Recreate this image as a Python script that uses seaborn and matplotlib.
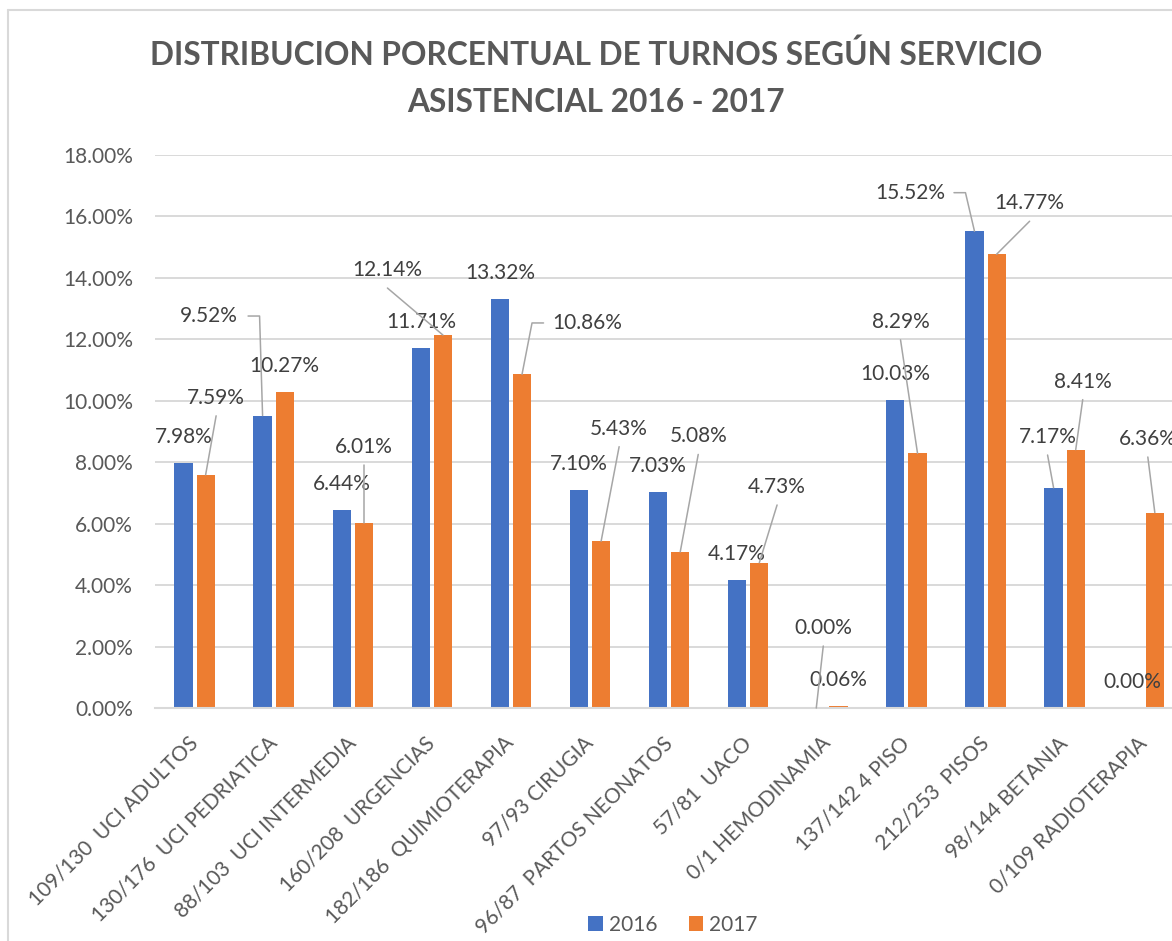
import matplotlib
matplotlib.use("Agg")
import numpy as np
import pandas as pd
import seaborn as sns
import matplotlib.pyplot as plt
from matplotlib.lines import Line2D
from matplotlib.patches import Patch
from matplotlib.transforms import IdentityTransform

# ---------------- data ----------------
categories = [
    "109/130  UCI ADULTOS",
    "130/176  UCI PEDRIATICA",
    "88/103  UCI INTERMEDIA",
    "160/208  URGENCIAS",
    "182/186  QUIMIOTERAPIA",
    "97/93 CIRUGIA",
    "96/87  PARTOS NEONATOS",
    "57/81  UACO",
    "0/1 HEMODINAMIA",
    "137/142 4 PISO",
    "212/253  PISOS",
    "98/144 BETANIA",
    "0/109 RADIOTERAPIA",
]
pct_2016 = [7.98, 9.52, 6.44, 11.71, 13.32, 7.10, 7.03, 4.17, 0.00, 10.03, 15.52, 7.17, 0.00]
pct_2017 = [7.59, 10.27, 6.01, 12.14, 10.86, 5.43, 5.08, 4.73, 0.06, 8.29, 14.77, 8.41, 6.36]
years = ["2016", "2017"]
y_ticks = [0, 2, 4, 6, 8, 10, 12, 14, 16, 18]
title_lines = ["DISTRIBUCION PORCENTUAL DE TURNOS SEGÚN SERVICIO",
               "ASISTENCIAL 2016 - 2017"]

# ---------------- layout / style ----------------
colors = ["#4472C4", "#ED7D31"]
W, H = 1172, 941
DEFAULT_OFF = (0, 26)  # px above bar top
# label offsets (px, x right / y up) relative to bar top; None = default
offsets = [
    [None, (-53.5, 99.5), None, None, None, None, None, None, (7, 80), None, (-64.5, 38.5), (-6, 50.7), None],
    [(10.5, 77), None, (0, 76.5), (-55.5, 65), (65.5, 51.4), (18, 112.5), (18, 115.5), (17.75, 75.7), None,
     (-17, 131.5), (33, 51), (7, 68), (-7, 73.6)],
]
# leader lines with elbow: side of label the line leaves from
elbows = {(0, 1): "right", (0, 10): "right", (1, 4): "left"}

sns.set_theme(style="white")
plt.rcParams["font.family"] = ["Lato", "DejaVu Sans"]

df = pd.DataFrame({
    "servicio": categories * 2,
    "pct": pct_2016 + pct_2017,
    "year": [years[0]] * len(categories) + [years[1]] * len(categories),
})

fig = plt.figure(figsize=(W / 100, H / 100), dpi=100)
ax = fig.add_axes([155 / W, (H - 708) / H, 13 * 79.1 / W, 553 / H])

sns.barplot(data=df, x="servicio", y="pct", hue="year", order=categories,
            hue_order=years, palette=colors, width=0.56, gap=0.18,
            linewidth=0, saturation=1, legend=False, ax=ax)

ax.set_xlim(-0.5, len(categories) - 0.5)
ax.set_ylim(0, 18)
ax.set_yticks(y_ticks)
ax.set_yticklabels([f"{v:.2f}%" for v in y_ticks], fontsize=15, color="#595959")
ax.set_xlabel("")
ax.set_ylabel("")
ax.grid(axis="y", color="#D9D9D9", linewidth=1.4)
ax.set_axisbelow(True)
for s in ["top", "right", "left"]:
    ax.spines[s].set_visible(False)
ax.spines["bottom"].set_color("#D9D9D9")
ax.spines["bottom"].set_linewidth(1.5)
ax.tick_params(axis="y", length=0, pad=16)
ax.tick_params(axis="x", which="major", length=0, pad=23)
ax.set_xticks(np.arange(len(categories)))
ax.set_xticklabels(categories, rotation=45, ha="right", va="center",
                   rotation_mode="anchor", fontsize=15, color="#595959")
ax.set_xticks(np.arange(-0.5, len(categories), 1), minor=True)
ax.tick_params(axis="x", which="minor", length=6, width=1.3, color="#D9D9D9", direction="out")

# ---------------- data labels + leader lines ----------------
for j, cont in enumerate(ax.containers):
    for i, bar in enumerate(cont):
        bx = bar.get_x() + bar.get_width() / 2
        by = bar.get_height()
        val = pct_2016[i] if j == 0 else pct_2017[i]
        off = offsets[j][i]
        dx, dy = off if off is not None else DEFAULT_OFF
        ax.annotate(f"{val:.2f}%", xy=(bx, by), xytext=(dx * 0.72, dy * 0.72),
                    textcoords="offset points", ha="center", va="center",
                    fontsize=15, color="#404040")
        if off is None:
            continue
        px, py = ax.transData.transform((bx, by))
        side = elbows.get((j, i))
        if side is None:
            xs = [px + dx, px]
            ys = [py + dy - 18, py]
        else:
            tw = 30 if val < 10 else 35
            if side == "right":
                sx = px + dx + tw + 9
                ex = sx + 11.5
            else:
                sx = px + dx - tw - 9
                ex = sx - 11.5
            xs = [sx, ex, px]
            ys = [py + dy, py + dy, py]
        fig.add_artist(Line2D(xs, ys, transform=IdentityTransform(),
                              color="#A6A6A6", linewidth=1.1))

# ---------------- title ----------------
fig.text(596 / W, 1 - 65 / H, title_lines[0], ha="center", va="baseline",
         fontsize=22.8, fontweight="bold", color="#595959")
fig.text(596 / W, 1 - 112 / H, title_lines[1], ha="center", va="baseline",
         fontsize=22.8, fontweight="bold", color="#595959")

# ---------------- legend ----------------
handles = [Patch(facecolor=c, edgecolor="none") for c in colors]
fig.legend(handles, years, loc="center", bbox_to_anchor=(673 / W, 1 - 925 / H),
           ncol=2, frameon=False, fontsize=15, handlelength=0.7, handleheight=0.7,
           handletextpad=0.3, columnspacing=1.5, labelcolor="#595959")

# ---------------- chart border ----------------
fig.add_artist(Line2D([7.5 / W, 7.5 / W], [0, 1 - 10 / H], transform=fig.transFigure,
                      color="#D9D9D9", linewidth=1.5))
fig.add_artist(Line2D([7.5 / W, 1], [1 - 10 / H, 1 - 10 / H], transform=fig.transFigure,
                      color="#D9D9D9", linewidth=1.5))

fig.savefig("out.png", dpi=100)
